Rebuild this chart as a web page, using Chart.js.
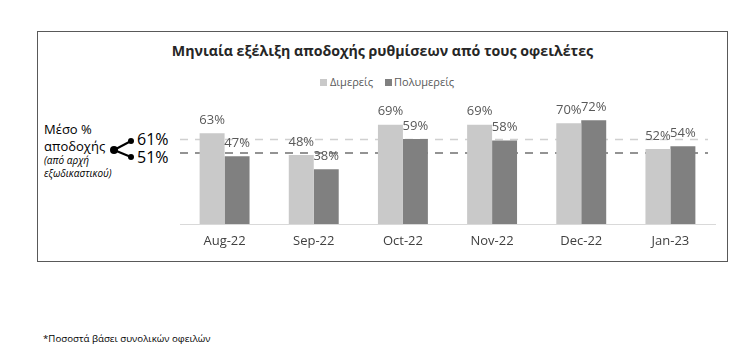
<!DOCTYPE html>
<html>
<head>
<meta charset="utf-8">
<script src="https://cdn.jsdelivr.net/npm/chart.js@4"></script>
<style>
  html, body { margin:0; padding:0; background:#fff; }
  body { width:735px; height:356px; position:relative; overflow:hidden; font-family:"Open Sans", "Noto Sans", sans-serif; }
  .abs { position:absolute; white-space:nowrap; }
  #box { position:absolute; left:37px; top:31px; width:691px; height:231px; border:1px solid #595959; box-sizing:border-box; }
  #wrap { position:absolute; left:0; top:0; width:735px; height:356px; }
  .sq { position:absolute; width:7px; height:7px; }
</style>
</head>
<body>
<div id="box"></div>
<div class="abs" id="title" style="left:0;width:765px;text-align:center;top:41px;font-size:14.2px;font-weight:bold;color:#262626;">Μηνιαία εξέλιξη αποδοχής ρυθμίσεων από τους οφειλέτες</div>
<div class="sq" style="left:320px;top:79px;background:#c9c9c9;"></div>
<div class="abs" style="left:330px;top:74px;font-size:11px;color:#595959;">Διμερείς</div>
<div class="sq" style="left:385px;top:79px;background:#808080;"></div>
<div class="abs" style="left:394px;top:74px;font-size:11px;color:#595959;">Πολυμερείς</div>

<div class="abs" style="left:44px;top:120px;font-size:13px;color:#000;">Μέσο %</div>
<div class="abs" style="left:44px;top:137px;font-size:13px;color:#000;">αποδοχής</div>
<div class="abs" style="left:44px;top:153px;font-size:10px;font-style:italic;color:#000;">(από αρχή</div>
<div class="abs" style="left:44px;top:166px;font-size:10px;font-style:italic;color:#000;">εξωδικαστικού)</div>
<svg class="abs" style="left:0;top:0" width="200" height="200">
  <line x1="114" y1="150" x2="131" y2="141" stroke="#000" stroke-width="2"/>
  <line x1="114" y1="150" x2="131" y2="157" stroke="#000" stroke-width="2"/>
  <circle cx="114" cy="150" r="4" fill="#000"/>
  <circle cx="131" cy="141" r="3" fill="#000"/>
  <circle cx="131" cy="157" r="3" fill="#000"/>
</svg>
<div class="abs" id="avg1" style="left:137px;top:128px;font-size:16px;color:#000;"></div>
<div class="abs" id="avg2" style="left:137px;top:146px;font-size:16px;color:#000;"></div>

<div class="abs" style="left:43px;top:332px;font-size:9.7px;color:#000;">*Ποσοστά βάσει συνολικών οφειλών</div>

<div id="wrap"><canvas id="c" width="735" height="356"></canvas></div>
<script>
const categories = ['Aug-22', 'Sep-22', 'Oct-22', 'Nov-22', 'Dec-22', 'Jan-23'];
const seriesNames = ['Διμερείς', 'Πολυμερείς'];
const bilateral = [63, 48, 69, 69, 70, 52];
const multilateral = [47, 38, 59, 58, 72, 54];
const averageLabels = ['61%', '51%'];
// vertical levels at which the two dashed average lines sit in the picture (percent units)
const averageLineLevels = [58.7, 49.3];

document.getElementById('avg1').textContent = averageLabels[0];
document.getElementById('avg2').textContent = averageLabels[1];

const valueLabels = {
  id: 'valueLabels',
  afterDatasetsDraw(chart) {
    const ctx = chart.ctx;
    ctx.save();
    ctx.font = '13px "Open Sans", sans-serif';
    ctx.fillStyle = '#595959';
    ctx.textAlign = 'center';
    ctx.textBaseline = 'middle';
    chart.data.datasets.forEach((ds, i) => {
      const meta = chart.getDatasetMeta(i);
      meta.data.forEach((el, j) => {
        ctx.fillText(ds.data[j] + '%', el.x, el.y - 13);
      });
    });
    ctx.restore();
  }
};

const avgLines = {
  id: 'avgLines',
  beforeDatasetsDraw(chart) {
    const ctx = chart.ctx;
    const y = chart.scales.y;
    const area = chart.chartArea;
    const colors = ['#d0d0d0', '#707070'];
    ctx.save();
    ctx.lineWidth = 1.5;
    ctx.setLineDash([8, 7]);
    averageLineLevels.forEach((v, i) => {
      const py = y.getPixelForValue(v);
      ctx.strokeStyle = colors[i];
      ctx.beginPath();
      ctx.moveTo(area.left, py);
      ctx.lineTo(area.right - 7, py);
      ctx.stroke();
    });
    ctx.restore();
  }
};

new Chart(document.getElementById('c'), {
  type: 'bar',
  data: {
    labels: categories,
    datasets: [
      { label: seriesNames[0], data: bilateral, backgroundColor: '#c9c9c9' },
      { label: seriesNames[1], data: multilateral, backgroundColor: '#808080' }
    ]
  },
  plugins: [avgLines, valueLabels],
  options: {
    responsive: false,
    animation: false,
    events: [],
    layout: { padding: { left: 180, right: 20, top: 80, bottom: 102 } },
    plugins: { legend: { display: false }, title: { display: false }, tooltip: { enabled: false } },
    datasets: { bar: { categoryPercentage: 0.56, barPercentage: 1.0 } },
    scales: {
      x: {
        grid: { display: false, drawTicks: false },
        border: { display: true, color: '#d9d9d9', width: 1 },
        ticks: { color: '#404040', font: { family: '"Open Sans", sans-serif', size: 13 }, padding: 9 },
        afterFit(scale) { scale.height = 30; }
      },
      y: { display: false, min: 0, max: 100 }
    }
  }
});
</script>
</body>
</html>
